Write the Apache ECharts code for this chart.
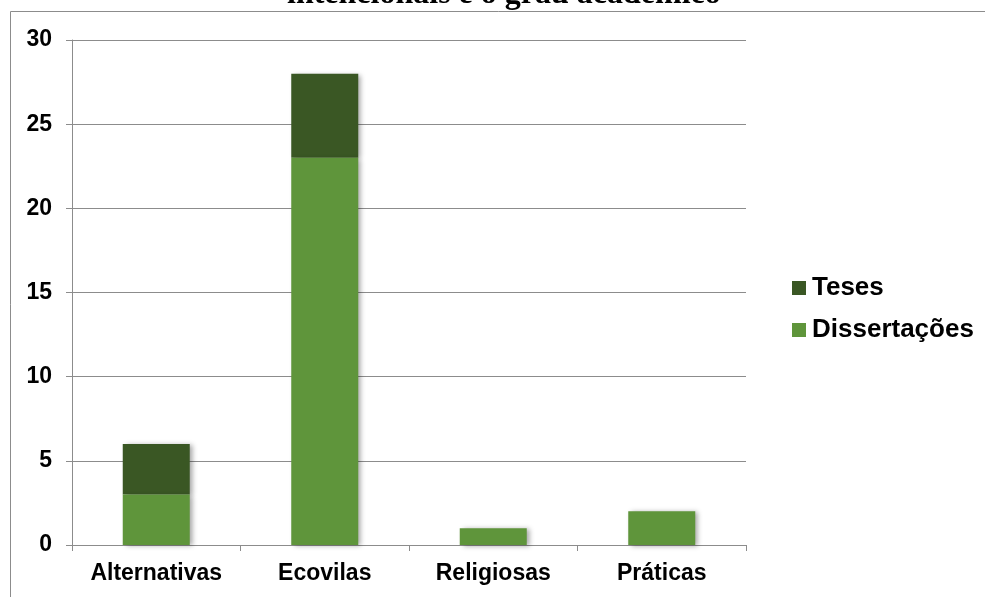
<!DOCTYPE html>
<html>
<head>
<meta charset="utf-8">
<script src="https://cdn.jsdelivr.net/npm/echarts@6/dist/echarts.min.js"></script>
<style>
  html, body { margin: 0; padding: 0; background: #fff; }
  #chart { width: 985px; height: 597px; }
</style>
</head>
<body>
<div id="chart"></div>
<script>
// data
const categories = ['Alternativas', 'Ecovilas', 'Religiosas', 'Práticas']
const dissertacoes = [3, 23, 1, 2]
const teses = [3, 5, 0, 0]
const yTicks = { min: 0, max: 30, interval: 5 }

const chart = echarts.init(document.getElementById('chart'))

const barShadow = {
  shadowBlur: 5,
  shadowOffsetX: 3,
  shadowOffsetY: 1,
  shadowColor: 'rgba(0,0,0,0.35)'
}

chart.setOption({
  animation: false,
  textStyle: { fontFamily: '"Liberation Sans", Arial, sans-serif' },
  graphic: [
    {
      type: 'rect',
      shape: { x: 10.5, y: 11.5, width: 1200, height: 1200 },
      style: { fill: 'none', stroke: '#8c8c8c', lineWidth: 1 },
      silent: true
    },
    {
      type: 'text',
      left: 287,
      top: -21,
      style: {
        text: 'intencionais e o grau acadêmico',
        font: 'bold 32px "Liberation Serif", "Times New Roman", serif',
        fill: '#000'
      }
    }
  ],
  grid: { left: 72, right: 239, top: 40, bottom: 52, containLabel: false },
  legend: {
    data: ['Teses', 'Dissertações'],
    orient: 'vertical',
    left: 787,
    top: 270,
    itemWidth: 14,
    itemHeight: 14,
    itemGap: 16,
    icon: 'rect',
    textStyle: { fontSize: 26, fontWeight: 'bold', color: '#000', padding: [0, 0, 0, 1] }
  },
  xAxis: {
    type: 'category',
    data: categories,
    axisLine: { lineStyle: { color: '#8c8c8c', width: 1 } },
    axisTick: { show: true, interval: 0, length: 6, lineStyle: { color: '#8c8c8c' } },
    axisLabel: { interval: 0, fontSize: 23, fontWeight: 'bold', color: '#000', margin: 17 }
  },
  yAxis: {
    type: 'value',
    min: yTicks.min,
    max: yTicks.max,
    interval: yTicks.interval,
    axisLine: { show: true, lineStyle: { color: '#8c8c8c', width: 1 } },
    axisTick: { show: true, length: 6, lineStyle: { color: '#8c8c8c' } },
    splitLine: { lineStyle: { color: '#8c8c8c', width: 1 } },
    axisLabel: { fontSize: 23, fontWeight: 'bold', color: '#000', margin: 20 }
  },
  series: [
    {
      name: 'Dissertações',
      type: 'bar',
      stack: 'total',
      z: 3,
      data: dissertacoes,
      barWidth: 67,
      itemStyle: Object.assign({ color: '#5f953b' }, barShadow)
    },
    {
      name: 'Teses',
      type: 'bar',
      stack: 'total',
      z: 2,
      data: teses,
      barWidth: 67,
      itemStyle: Object.assign({ color: '#3a5724' }, barShadow)
    }
  ]
})
</script>
</body>
</html>
